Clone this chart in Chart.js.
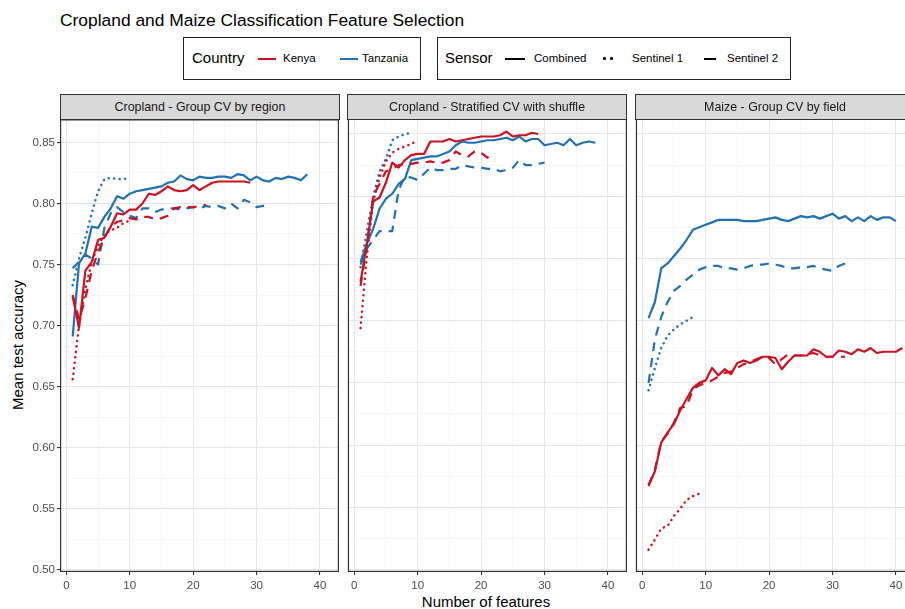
<!DOCTYPE html>
<html>
<head>
<meta charset="utf-8">
<script src="https://cdn.jsdelivr.net/npm/chart.js@4.4.1/dist/chart.umd.min.js"></script>
<style>
  html, body { margin: 0; padding: 0; background: #fff; }
  body { width: 905px; height: 609px; overflow: hidden; position: relative; font-family: "Liberation Sans", Arial, sans-serif; color: #000; }
  .abs { position: absolute; white-space: nowrap; }
  #title { left: 60px; top: 10px; font-size: 17.4px; }
  .box { position: absolute; border: 1.3px solid #222; box-sizing: border-box; }
  .legTitle { font-size: 15px; top: 49px; }
  .legLab { font-size: 11.5px; top: 52px; }
  .key { position: absolute; top: 58px; width: 18px; height: 0; }
  .dot { position: absolute; top: 57px; width: 2.6px; height: 2.6px; border-radius: 50%; background: #000; }
  .strip { position: absolute; z-index: 2; top: 94px; height: 26px; background: #d9d9d9; border: 1.2px solid #333; box-sizing: border-box;
           font-size: 12.4px; color: #1a1a1a; text-align: center; line-height: 24px; }
  canvas { position: absolute; z-index: 1; }
  #ytitle { left: 17px; top: 345px; font-size: 15px; transform: translate(-50%, -50%) rotate(-90deg); }
  #xtitle { left: 486px; top: 601px; font-size: 15px; transform: translate(-50%, -50%); }
</style>
</head>
<body>
<div id="title" class="abs">Cropland and Maize Classification Feature Selection</div>

<!-- легенды -->
<div class="box" style="left:183px;top:37px;width:238px;height:43px;"></div>
<div class="abs legTitle" style="left:192px;">Country</div>
<div class="key" style="left:258px;border-top:2.2px solid #cc1122;"></div>
<div class="abs legLab" style="left:283px;">Kenya</div>
<div class="key" style="left:340px;border-top:2.2px solid #1f72b8;"></div>
<div class="abs legLab" style="left:362px;">Tanzania</div>

<div class="box" style="left:437px;top:37px;width:354px;height:43px;"></div>
<div class="abs legTitle" style="left:445px;">Sensor</div>
<div class="key" style="left:505px;width:20px;border-top:2.4px solid #000;"></div>
<div class="abs legLab" style="left:534px;">Combined</div>
<div class="dot" style="left:603px;"></div>
<div class="dot" style="left:610px;"></div>
<div class="abs legLab" style="left:632px;">Sentinel 1</div>
<div class="key" style="left:704px;width:12px;border-top:2.4px solid #000;"></div>
<div class="abs legLab" style="left:727px;">Sentinel 2</div>

<!-- заголовки панелей -->
<div class="strip" style="left:60px;width:280px;">Cropland - Group CV by region</div>
<div class="strip" style="left:347px;width:280px;">Cropland - Stratified CV with shuffle</div>
<div class="strip" style="left:635px;width:280px;">Maize - Group CV by field</div>

<canvas id="p1" width="345" height="484" style="left:0px;top:111px;"></canvas>
<canvas id="p2" width="280" height="484" style="left:347px;top:111px;"></canvas>
<canvas id="p3" width="280" height="484" style="left:635px;top:111px;"></canvas>

<div id="ytitle" class="abs">Mean test accuracy</div>
<div id="xtitle" class="abs">Number of features</div>

<script>
// ===== Данные: точность по числу признаков (x = 1, 2, 3, ...) =====
// Cropland - Group CV by region
const regionKenyaCombined = [0.724, 0.698, 0.745, 0.752, 0.770, 0.772, 0.781, 0.792, 0.791, 0.795, 0.795, 0.800, 0.808, 0.807, 0.810, 0.814, 0.811, 0.810, 0.811, 0.815, 0.811, 0.814, 0.817, 0.818, 0.818, 0.818, 0.818, 0.818, 0.817];
const regionTanzaniaCombined = [0.691, 0.751, 0.759, 0.781, 0.780, 0.789, 0.796, 0.806, 0.804, 0.808, 0.810, 0.811, 0.812, 0.813, 0.814, 0.817, 0.818, 0.823, 0.820, 0.819, 0.822, 0.821, 0.821, 0.822, 0.822, 0.821, 0.824, 0.823, 0.819, 0.822, 0.819, 0.818, 0.821, 0.820, 0.822, 0.821, 0.819, 0.824];
const regionKenyaS1 = [0.656, 0.700, 0.730, 0.752, 0.765, 0.775, 0.778, 0.780, 0.784, 0.786];
const regionTanzaniaS1 = [0.733, 0.755, 0.772, 0.792, 0.810, 0.820, 0.821, 0.820, 0.820, 0.821];
const regionKenyaS2 = [0.725, 0.705, 0.722, 0.745, 0.760, 0.772, 0.781, 0.785, 0.786, 0.788, 0.787, 0.789, 0.789, 0.787, 0.788, 0.790, 0.796, 0.797, 0.797, 0.797, 0.798, 0.799];
const regionTanzaniaS2 = [0.747, 0.752, 0.758, 0.755, 0.750, 0.780, 0.792, 0.797, 0.793, 0.790, 0.788, 0.796, 0.796, 0.793, 0.795, 0.796, 0.796, 0.795, 0.796, 0.797, 0.796, 0.798, 0.797, 0.798, 0.796, 0.800, 0.796, 0.803, 0.801, 0.797, 0.798, 0.801];

// Cropland - Stratified CV with shuffle
const shuffleKenyaCombined = [0.731, 0.762, 0.796, 0.799, 0.811, 0.827, 0.823, 0.829, 0.833, 0.834, 0.834, 0.844, 0.844, 0.844, 0.846, 0.844, 0.845, 0.846, 0.847, 0.848, 0.848, 0.848, 0.849, 0.852, 0.848, 0.849, 0.849, 0.851, 0.850];
const shuffleTanzaniaCombined = [0.747, 0.762, 0.774, 0.790, 0.798, 0.802, 0.810, 0.814, 0.829, 0.830, 0.831, 0.832, 0.832, 0.834, 0.836, 0.841, 0.844, 0.843, 0.843, 0.844, 0.845, 0.845, 0.846, 0.847, 0.845, 0.848, 0.844, 0.846, 0.846, 0.841, 0.842, 0.843, 0.841, 0.846, 0.841, 0.843, 0.844, 0.843];
const shuffleKenyaS1 = [0.694, 0.752, 0.796, 0.815, 0.828, 0.835, 0.838, 0.840, 0.842, 0.845];
const shuffleTanzaniaS1 = [0.743, 0.772, 0.800, 0.820, 0.830, 0.845, 0.848, 0.850, 0.851];
const shuffleKenyaS2 = [0.728, 0.760, 0.800, 0.810, 0.820, 0.822, 0.825, 0.826, 0.826, 0.827, 0.827, 0.828, 0.827, 0.827, 0.829, 0.836, 0.833, 0.832, 0.836, 0.835, 0.831, 0.834];
const shuffleTanzaniaS2 = [0.745, 0.758, 0.765, 0.772, 0.772, 0.772, 0.805, 0.816, 0.815, 0.813, 0.818, 0.823, 0.821, 0.821, 0.822, 0.822, 0.825, 0.824, 0.823, 0.823, 0.822, 0.822, 0.820, 0.821, 0.823, 0.829, 0.825, 0.825, 0.826, 0.827];

// Maize - Group CV by field
const fieldKenyaCombined = [0.567, 0.579, 0.602, 0.610, 0.617, 0.628, 0.637, 0.646, 0.650, 0.652, 0.662, 0.656, 0.661, 0.657, 0.666, 0.668, 0.666, 0.668, 0.671, 0.671, 0.670, 0.661, 0.667, 0.672, 0.672, 0.672, 0.677, 0.675, 0.671, 0.671, 0.676, 0.675, 0.673, 0.677, 0.675, 0.678, 0.674, 0.675, 0.675, 0.675, 0.678];
const fieldTanzaniaCombined = [0.702, 0.715, 0.742, 0.746, 0.752, 0.758, 0.765, 0.773, 0.775, 0.777, 0.779, 0.781, 0.781, 0.781, 0.781, 0.780, 0.780, 0.780, 0.781, 0.782, 0.783, 0.781, 0.780, 0.782, 0.784, 0.783, 0.784, 0.782, 0.784, 0.786, 0.782, 0.784, 0.780, 0.783, 0.780, 0.784, 0.781, 0.783, 0.783, 0.780];
const fieldKenyaS1 = [0.516, 0.524, 0.533, 0.535, 0.543, 0.549, 0.556, 0.559, 0.561];
const fieldTanzaniaS1 = [0.644, 0.662, 0.678, 0.688, 0.693, 0.697, 0.700, 0.703];
const fieldKenyaS2 = [0.568, 0.580, 0.603, 0.609, 0.618, 0.630, 0.631, 0.645, 0.648, 0.650, 0.652, 0.655, 0.658, 0.659, 0.662, 0.665, 0.667, 0.669, 0.671, 0.670, 0.665, 0.669, 0.673, 0.672, 0.672, 0.673, 0.674, 0.672, 0.671, 0.671, 0.671, 0.671];
const fieldTanzaniaS2 = [0.650, 0.685, 0.703, 0.715, 0.724, 0.728, 0.733, 0.737, 0.741, 0.743, 0.744, 0.744, 0.742, 0.742, 0.741, 0.742, 0.744, 0.745, 0.745, 0.746, 0.745, 0.744, 0.742, 0.742, 0.743, 0.743, 0.744, 0.742, 0.741, 0.740, 0.744, 0.746, 0.745];

const xTicks = [0, 10, 20, 30, 40];
const yTicks = [0.50, 0.55, 0.60, 0.65, 0.70, 0.75, 0.80, 0.85];

// ===== Стили =====
const KENYA = '#cc1122';
const TANZANIA = '#1f72b8';
const DASH = { combined: [], s1: [0.1, 5.4], s2: [9, 7] };

function toPoints(arr) {
    return arr.map((v, i) => ({ x: i + 1, y: v }));
}

function series(arr, color, sensor) {
    return {
        data: toPoints(arr),
        borderColor: color,
        backgroundColor: color,
        borderWidth: sensor === 's1' ? 2.5 : 2.2,
        borderDash: DASH[sensor],
        borderCapStyle: sensor === 's1' ? 'round' : 'butt',
        borderJoinStyle: 'round',
        pointRadius: 0,
        tension: 0,
        fill: false
    };
}

// Рамка панели (theme_bw)
const panelBorder = {
    id: 'panelBorder',
    afterDraw(chart) {
        const { ctx, chartArea: a } = chart;
        ctx.save();
        ctx.strokeStyle = '#333333';
        ctx.lineWidth = 1.2;
        ctx.strokeRect(a.left + 0.6, a.top, a.right - a.left - 1.2, a.bottom - a.top - 0.6);
        ctx.restore();
    }
};

const isMajorX = v => xTicks.includes(v);
const isMajorY = v => yTicks.some(t => Math.abs(t - v) < 1e-6);

function makePanel(id, datasets, showY, padRight) {
    const ctx = document.getElementById(id).getContext('2d');
    return new Chart(ctx, {
        type: 'line',
        data: { datasets: datasets },
        options: {
            responsive: false,
            animation: false,
            layout: { padding: { left: 0, right: padRight, top: 0, bottom: 0 } },
            plugins: { legend: { display: false }, tooltip: { enabled: false } },
            scales: {
                x: {
                    type: 'linear',
                    min: -1,
                    max: 43,
                    afterFit: s => { s.height = 23; },
                    border: { display: false },
                    grid: {
                        color: c => isMajorX(c.tick.value) ? '#e6e6e6' : '#f3f3f3',
                        lineWidth: c => isMajorX(c.tick.value) ? 1.1 : 0.7,
                        tickColor: c => isMajorX(c.tick.value) ? '#333333' : 'rgba(0,0,0,0)',
                        tickLength: 3
                    },
                    ticks: {
                        stepSize: 5,
                        includeBounds: false,
                        maxRotation: 0,
                        autoSkip: false,
                        padding: 4,
                        color: '#4d4d4d',
                        font: { family: 'Liberation Sans', size: 11.5 },
                        callback: v => isMajorX(v) ? String(v) : ''
                    }
                },
                y: {
                    type: 'linear',
                    min: 0.498,
                    max: 0.8685,
                    afterFit: s => { s.width = showY ? 60 : 0; },
                    border: { display: false },
                    grid: {
                        color: c => isMajorY(c.tick.value) ? '#e6e6e6' : '#f3f3f3',
                        lineWidth: c => isMajorY(c.tick.value) ? 1.1 : 0.7,
                        tickColor: c => (showY && isMajorY(c.tick.value)) ? '#333333' : 'rgba(0,0,0,0)',
                        tickLength: 3,
                        drawTicks: showY
                    },
                    ticks: {
                        display: showY,
                        stepSize: 0.025,
                        includeBounds: false,
                        autoSkip: false,
                        padding: 2,
                        color: '#4d4d4d',
                        font: { family: 'Liberation Sans', size: 11.5 },
                        callback: v => isMajorY(v) ? v.toFixed(2) : ''
                    }
                }
            }
        },
        plugins: [panelBorder]
    });
}

makePanel('p1', [
    series(regionKenyaS2, KENYA, 's2'),
    series(regionTanzaniaS2, TANZANIA, 's2'),
    series(regionKenyaS1, KENYA, 's1'),
    series(regionTanzaniaS1, TANZANIA, 's1'),
    series(regionKenyaCombined, KENYA, 'combined'),
    series(regionTanzaniaCombined, TANZANIA, 'combined')
], true, 6);

makePanel('p2', [
    series(shuffleKenyaS2, KENYA, 's2'),
    series(shuffleTanzaniaS2, TANZANIA, 's2'),
    series(shuffleKenyaS1, KENYA, 's1'),
    series(shuffleTanzaniaS1, TANZANIA, 's1'),
    series(shuffleKenyaCombined, KENYA, 'combined'),
    series(shuffleTanzaniaCombined, TANZANIA, 'combined')
], false, 0);

makePanel('p3', [
    series(fieldKenyaS2, KENYA, 's2'),
    series(fieldTanzaniaS2, TANZANIA, 's2'),
    series(fieldKenyaS1, KENYA, 's1'),
    series(fieldTanzaniaS1, TANZANIA, 's1'),
    series(fieldKenyaCombined, KENYA, 'combined'),
    series(fieldTanzaniaCombined, TANZANIA, 'combined')
], false, 0);
</script>
</body>
</html>
